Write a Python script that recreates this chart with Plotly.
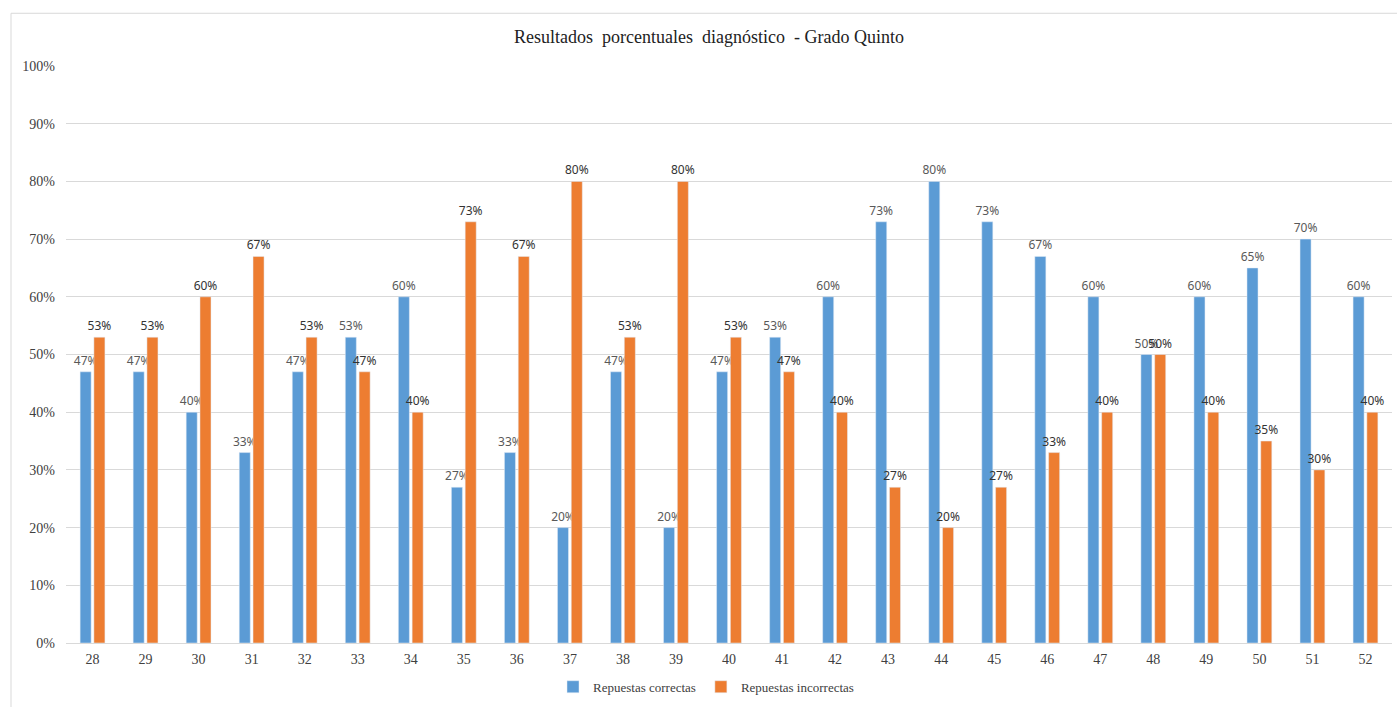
import plotly.graph_objects as go

categories = ["28", "29", "30", "31", "32", "33", "34", "35", "36", "37", "38", "39", "40",
              "41", "42", "43", "44", "45", "46", "47", "48", "49", "50", "51", "52"]
correctas = [47, 47, 40, 33, 47, 53, 60, 27, 33, 20, 47, 20, 47,
             53, 60, 73, 80, 73, 67, 60, 50, 60, 65, 70, 60]
incorrectas = [53, 53, 60, 67, 53, 47, 40, 73, 67, 80, 53, 80, 53,
               47, 40, 27, 20, 27, 33, 40, 50, 40, 35, 30, 40]
y_ticks = [0, 10, 20, 30, 40, 50, 60, 70, 80, 90, 100]

W, H = 1397, 707
ml, mr, mt, mb = 66, 5, 66, 61
pw, ph = W - ml - mr, H - mt - mb

fig = go.Figure()
fig.add_trace(go.Bar(
    x=categories, y=correctas, name="Repuestas correctas",
    marker_color="#5B9BD5",
    text=[f"{v}%" for v in correctas], textposition="outside",
    textfont=dict(family="Noto Sans", size=12, color="#595959"),
    cliponaxis=False, constraintext="none",
))
fig.add_trace(go.Bar(
    x=categories, y=incorrectas, name="Repuestas incorrectas",
    marker_color="#ED7D31",
    text=[f"{v}%" for v in incorrectas], textposition="outside",
    textfont=dict(family="Noto Sans", size=12, color="#333333"),
    cliponaxis=False, constraintext="none",
))

fig.update_layout(
    width=W, height=H,
    margin=dict(l=ml, r=mr, t=mt, b=mb),
    paper_bgcolor="white", plot_bgcolor="white",
    barmode="group", bargap=0.48, bargroupgap=0.2,
    title=dict(text="Resultados  porcentuales  diagnóstico  - Grado Quinto",
               x=709 / W, xanchor="center", y=1 - 37 / H, yanchor="middle",
               font=dict(family="Liberation Serif", size=18, color="#222222")),
    font=dict(family="Liberation Serif", size=14, color="#404040"),
    xaxis=dict(type="category", showgrid=False, showline=False, ticks="",
               ticklabelstandoff=6,
               tickfont=dict(family="Liberation Serif", size=14, color="#404040")),
    yaxis=dict(range=[0, 100], tickvals=y_ticks, ticktext=[f"{v}%" for v in y_ticks],
               showgrid=True, gridcolor="#D9D9D9", gridwidth=1, zeroline=True,
               zerolinecolor="#D9D9D9", zerolinewidth=1, showline=False, ticks="",
               ticklabelstandoff=10,
               tickfont=dict(family="Liberation Serif", size=14, color="#404040")),
    legend=dict(orientation="h", x=(712 - 6 - ml) / pw, xanchor="center",
                y=-(690 - (H - mb)) / ph, yanchor="middle",
                font=dict(family="Liberation Serif", size=13, color="#404040"),
                itemwidth=30, traceorder="normal"),
    showlegend=True,
)

fig.add_shape(type="rect", xref="paper", yref="paper",
              x0=(11 - ml) / pw, x1=(W + 5 - ml) / pw,
              y0=-(H + 5 - (H - mb)) / ph, y1=1 + (mt - 13) / ph,
              line=dict(color="#D9D9D9", width=1), fillcolor="rgba(0,0,0,0)", layer="below")

fig.write_html("out.html")
